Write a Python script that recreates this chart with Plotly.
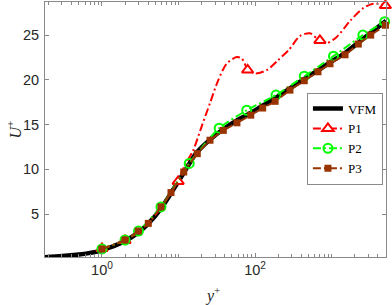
import plotly.graph_objects as go
import numpy as np

# ---------------- data ----------------
vfm_x = [0.18, 0.3, 0.5, 0.7, 0.86, 1, 1.5, 2, 3, 4, 6, 8, 12, 17, 26, 38, 60, 90, 125, 183, 286, 440, 665, 955, 1500, 2240, 3250, 5150]
vfm_y = [0.18, 0.3, 0.48, 0.66, 0.8, 0.98, 1.5, 1.98, 2.95, 3.9, 5.7, 7.35, 9.75, 11.8, 13.35, 14.45, 15.55, 16.35, 17.1, 17.95, 19.05, 20.1, 21.05, 21.95, 23.0, 24.15, 25.25, 26.6]

p1_line_x = [1, 2, 3, 4, 6, 8, 9.9, 12, 15.6, 20, 25.8, 33, 42.5, 57.5, 67, 80, 100, 143, 200, 280, 387, 525, 670, 860, 1170, 1750, 2580, 3500, 5060]
p1_line_y = [1.1, 2.1, 3.0, 3.95, 5.8, 7.45, 8.7, 10.4, 12.15, 14.75, 17.4, 19.95, 21.8, 22.55, 22.4, 21.2, 20.7, 21.1, 22.2, 23.4, 24.9, 25.2, 24.5, 24.1, 24.8, 26.6, 28.0, 28.5, 28.35]
p1_mark_x = [1, 2, 9.9, 80, 705, 5060]
p1_mark_y = [1.15, 2.05, 8.65, 21.1, 24.4, 28.3]

p2_x = [1, 2, 3, 5.9, 13.8, 34, 78, 188, 440, 1060, 2570, 4950]
p2_y = [1.1, 2.1, 3.1, 5.8, 10.66, 14.6, 16.6, 18.3, 20.4, 22.65, 25.0, 26.5]

p3_x = [1, 2, 2.98, 4.03, 5.9, 7.98, 11.7, 17.6, 25.8, 38.5, 58, 88, 126, 183, 286, 440, 665, 955, 1500, 2240, 3250, 5060]
p3_y = [1.09, 2.1, 3.1, 3.96, 5.8, 7.4, 9.7, 11.75, 13.25, 14.35, 15.2, 16.05, 16.85, 17.6, 18.85, 19.9, 20.9, 21.8, 22.8, 24.0, 25.0, 26.1]

x_tick_vals = [1, 100]
x_tick_text = ["10<sup>0</sup>", "10<sup>2</sup>"]
y_tick_vals = [5, 10, 15, 20, 25]

RED = "#ff0000"
GREEN = "#00ff00"
BROWN = "#993300"
DASHDOT = "8px,3px,2px,3px"
AXC = "#8a8a8a"
TXT = "#262626"

fig = go.Figure()

# VFM
fig.add_trace(go.Scatter(x=vfm_x, y=vfm_y, mode="lines", name="VFM",
                         line=dict(color="black", width=4.5, shape="spline", smoothing=0.6)))

# P1
fig.add_trace(go.Scatter(x=p1_line_x, y=p1_line_y, mode="lines", showlegend=False,
                         line=dict(color=RED, width=2, dash=DASHDOT, shape="spline", smoothing=0.8)))
fig.add_trace(go.Scatter(x=p1_mark_x, y=p1_mark_y, mode="markers", showlegend=False, cliponaxis=False,
                         marker=dict(symbol="triangle-up", size=10, color="white",
                                     line=dict(color=RED, width=2))))
fig.add_trace(go.Scatter(x=[None], y=[None], mode="lines+markers", name="P1",
                         line=dict(color=RED, width=2, dash=DASHDOT),
                         marker=dict(symbol="triangle-up", size=10, color="white",
                                     line=dict(color=RED, width=2))))

# P2
fig.add_trace(go.Scatter(x=p2_x, y=p2_y, mode="lines", showlegend=False,
                         line=dict(color=GREEN, width=2, dash=DASHDOT, shape="spline", smoothing=0.6)))
fig.add_trace(go.Scatter(x=p2_x, y=p2_y, mode="markers", showlegend=False, cliponaxis=False,
                         marker=dict(symbol="circle-open", size=9, color=GREEN,
                                     line=dict(color=GREEN, width=2))))
fig.add_trace(go.Scatter(x=[None], y=[None], mode="lines+markers", name="P2",
                         line=dict(color=GREEN, width=2, dash=DASHDOT),
                         marker=dict(symbol="circle-open", size=9, color=GREEN,
                                     line=dict(color=GREEN, width=2))))

# P3
fig.add_trace(go.Scatter(x=p3_x, y=p3_y, mode="lines+markers", name="P3", cliponaxis=False,
                         line=dict(color=BROWN, width=2, dash=DASHDOT, shape="spline", smoothing=0.5),
                         marker=dict(symbol="square", size=7, color=BROWN,
                                     line=dict(color=BROWN, width=0))))

axis_common = dict(
    showgrid=False, zeroline=False, showline=True, linecolor=AXC, linewidth=1,
    mirror="allticks", ticks="inside", tickcolor=AXC, ticklen=4, automargin=False,
    tickfont=dict(family="Liberation Sans, Arial, sans-serif", size=14.5, color=TXT),
)

fig.update_xaxes(type="log", range=[np.log10(0.18), np.log10(5150)],
                 tickmode="array", tickvals=x_tick_vals, ticktext=x_tick_text,
                 minor=dict(ticks="inside", ticklen=3, tickcolor=AXC,
                            tickvals=[v * 10.0 ** k for k in range(-1, 4) for v in range(1, 10)
                                      if 0.18 <= v * 10.0 ** k <= 5150]),
                 **axis_common)
fig.update_yaxes(range=[0.2, 28.7], tickmode="array", tickvals=y_tick_vals, ticklabelstandoff=2,
                 **axis_common)

title_font = dict(family="Liberation Serif, serif", size=16, color=TXT)
fig.add_annotation(text="<i>y</i><sup>+</sup>", xref="paper", yref="paper",
                   x=0.49, y=-0.147, xanchor="center", yanchor="middle",
                   showarrow=False, font=title_font)
fig.add_annotation(text="<i>U</i><sup>+</sup>", xref="paper", yref="paper",
                   x=-0.091, y=0.50, xanchor="center", yanchor="middle", textangle=-90,
                   showarrow=False, font=title_font)

fig.update_layout(
    width=392, height=305,
    margin=dict(l=45, r=6, t=2, b=48),
    paper_bgcolor="white", plot_bgcolor="white",
    hovermode=False,
    legend=dict(x=0.991, xanchor="right", y=0.645, yanchor="top",
                xref="paper", yref="paper",
                bgcolor="white", bordercolor=AXC, borderwidth=1,
                font=dict(family="Liberation Serif, serif", size=13, color="black"),
                tracegroupgap=0, itemwidth=30),
)

fig.write_html("out.html", config={"displayModeBar": False},
               post_script="document.body.style.margin='0';document.body.style.padding='0';")
